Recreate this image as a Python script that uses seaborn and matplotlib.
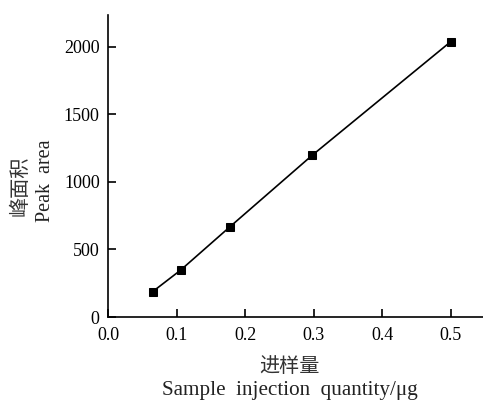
import matplotlib
matplotlib.use("Agg")
import matplotlib.pyplot as plt
import seaborn as sns
import pandas as pd

# Data
sample_qty = [0.065, 0.106, 0.178, 0.298, 0.500]
peak_area = [187, 347, 668, 1197, 2037]
x_ticks = [0.0, 0.1, 0.2, 0.3, 0.4, 0.5]
x_tick_labels = ["0.0", "0.1", "0.2", "0.3", "0.4", "0.5"]
y_ticks = [0, 500, 1000, 1500, 2000]
y_tick_labels = ["0", "500", "1000", "1500", "2000"]

sns.set_theme(style="ticks")
plt.rcParams['font.family'] = ['Liberation Serif', 'Noto Sans CJK SC', 'DejaVu Sans']

df = pd.DataFrame({"x": sample_qty, "y": peak_area})

fig = plt.figure(figsize=(4.83, 4.04), dpi=100)
ax = fig.add_axes([108 / 483, 1 - 317 / 404, 1 - 108 / 483, (317 - 15) / 404])

sns.lineplot(data=df, x="x", y="y", ax=ax, color="black", linewidth=1.2,
             marker="s", markersize=6, markeredgecolor="black",
             markerfacecolor="black")

ax.set_xlim(0, 0.547)
ax.set_ylim(0, 2234)
ax.set_xticks(x_ticks)
ax.set_xticklabels(x_tick_labels)
ax.set_yticks(y_ticks)
ax.set_yticklabels(y_tick_labels)
ax.tick_params(direction="in", length=6, width=1.2, labelsize=13, colors="black")
ax.tick_params(axis="y", pad=6)
ax.tick_params(axis="x", pad=7)
for s in ["top", "right"]:
    ax.spines[s].set_visible(False)
for s in ["left", "bottom"]:
    ax.spines[s].set_linewidth(1.2)
    ax.spines[s].set_color("black")
ax.set_xlabel("")
ax.set_ylabel("")

W, H = 483, 404
fig.text(20 / W, 1 - 186 / H, "峰面积", rotation=90, ha="center", va="center",
         fontsize=14.5, family=['Noto Sans CJK SC', 'DejaVu Sans'], color="#333333")
fig.text(45 / W, 1 - 181 / H, "Peak  area", rotation=90, ha="center", va="center",
         fontsize=14.5, color="#222222")
fig.text(289 / W, 1 - 367 / H, "进样量", ha="center", va="center",
         fontsize=14.5, family=['Noto Sans CJK SC', 'DejaVu Sans'], color="#333333")
fig.text(290 / W, 1 - 391 / H, "Sample  injection  quantity/μg", ha="center", va="center",
         fontsize=15.2, color="#222222")

fig.savefig("out.png", dpi=100)
